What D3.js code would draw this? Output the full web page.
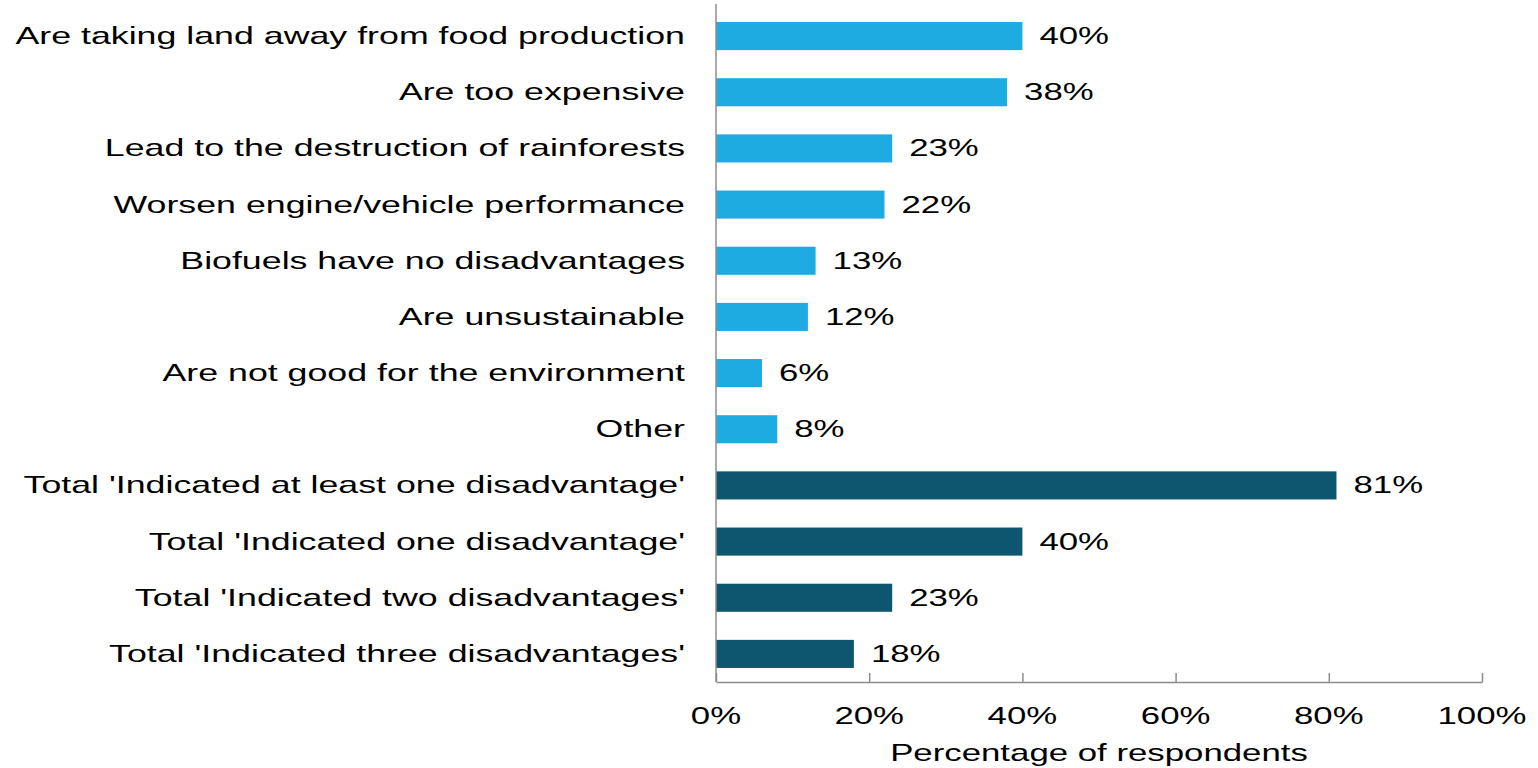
<!DOCTYPE html>
<html>
<head>
<meta charset="utf-8">
<script src="https://cdn.jsdelivr.net/npm/d3@7"></script>
<style>
  html, body { margin: 0; padding: 0; background: #fff; }
  svg { display: block; }
  text { font-family: "Liberation Sans", Arial, sans-serif; fill: #000; }
</style>
</head>
<body>
<svg id="chart" width="1538" height="768"></svg>
<script>
// Survey answers: perceived disadvantages of biofuels
const categories = [
  "Are taking land away from food production",
  "Are too expensive",
  "Lead to the destruction of rainforests",
  "Worsen engine/vehicle performance",
  "Biofuels have no disadvantages",
  "Are unsustainable",
  "Are not good for the environment",
  "Other",
  "Total 'Indicated at least one disadvantage'",
  "Total 'Indicated one disadvantage'",
  "Total 'Indicated two disadvantages'",
  "Total 'Indicated three disadvantages'"
];
const values = [40, 38, 23, 22, 13, 12, 6, 8, 81, 40, 23, 18];
const groups = ["item", "item", "item", "item", "item", "item", "item", "item",
                "total", "total", "total", "total"];
const xTicks = [0, 20, 40, 60, 80, 100];
const xTitle = "Percentage of respondents";

const colors = { item: "#1eabe2", total: "#0e5570" };
const stretch = 1.45;      // wide, flat lettering
const catStretch = 1.49;   // category names run a touch wider
const fontSize = 24;

const svg = d3.select("#chart");
const plotLeft = 716, plotRight = 1482, plotTop = 8, plotBottom = 682;

const x = d3.scaleLinear().domain([0, 100]).range([plotLeft, plotRight]);
const y = d3.scaleBand().domain(categories).range([plotTop, plotBottom])
  .paddingInner(0.5).paddingOuter(0.25);

// helper: stretched text at (px, py)
function label(g, px, py, txt, anchor, sx = stretch) {
  return g.append("text")
    .attr("transform", `translate(${px},${py}) scale(${sx},1)`)
    .attr("text-anchor", anchor)
    .style("font-size", fontSize + "px")
    .text(txt);
}

// bars
svg.append("g").selectAll("rect")
  .data(categories)
  .join("rect")
  .attr("x", x(0))
  .attr("y", d => y(d))
  .attr("width", (d, i) => x(values[i]) - x(0))
  .attr("height", y.bandwidth())
  .attr("fill", (d, i) => colors[groups[i]]);

// value labels
const vl = svg.append("g");
categories.forEach((c, i) => {
  label(vl, x(values[i]) + 17, y(c) + y.bandwidth() / 2 + 8, values[i] + "%", "start");
});

// category labels
const cl = svg.append("g");
categories.forEach(c => {
  label(cl, 685, y(c) + y.bandwidth() / 2 + 8, c, "end", catStretch);
});

// x axis with inward ticks
const xAxis = svg.append("g").attr("transform", `translate(0,${plotBottom})`)
  .call(d3.axisBottom(x).tickValues(xTicks).tickSizeInner(-9).tickSizeOuter(0).tickFormat(""));
xAxis.select(".domain").attr("stroke", "#8c8c8c").attr("stroke-width", 1.5);
xAxis.selectAll(".tick line").attr("stroke", "#8c8c8c").attr("stroke-width", 1.5);

// vertical axis line
svg.append("line")
  .attr("x1", x(0)).attr("x2", x(0))
  .attr("y1", 4).attr("y2", plotBottom)
  .attr("stroke", "#8c8c8c").attr("stroke-width", 1.5);

// tick labels
const tl = svg.append("g");
xTicks.forEach(t => label(tl, x(t), 724, t + "%", "middle"));

// axis title
label(svg, (plotLeft + plotRight) / 2, 761, xTitle, "middle");
</script>
</body>
</html>
